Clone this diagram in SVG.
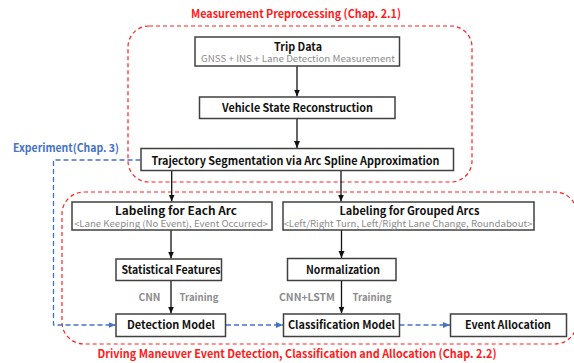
<svg xmlns="http://www.w3.org/2000/svg" width="574" height="363" viewBox="0 0 574 363">
<defs>
<marker id="ah" markerUnits="userSpaceOnUse" markerWidth="7" markerHeight="7" viewBox="0 0 7 7" refX="7" refY="3.5" orient="auto"><path d="M0,0.5 L7,3.5 L0,6.5 Z" fill="#111"/></marker>
<marker id="bh" markerUnits="userSpaceOnUse" markerWidth="7" markerHeight="7" viewBox="0 0 7 7" refX="7" refY="3.5" orient="auto"><path d="M0,0.5 L7,3.5 L0,6.5 Z" fill="#4472C4"/></marker>
</defs>
<style>
text{font-family:"Noto Sans CJK KR","Noto Sans",sans-serif;}
.box{fill:#fff;stroke:#404040;stroke-width:1.5;}
.t{font-size:11px;font-weight:bold;fill:#111;text-anchor:middle;}
.s{font-size:9px;fill:#8c8c8c;text-anchor:middle;}
.g{font-size:10px;font-weight:bold;fill:#8c8c8c;text-anchor:middle;}
.red{fill:none;stroke:#ff2020;stroke-width:1.2;stroke-dasharray:4 3;}
.rt{font-size:11.5px;font-weight:bold;fill:#ff1a1a;text-anchor:middle;}
.bt{font-size:11px;font-weight:bold;fill:#4472C4;text-anchor:middle;}
.arr{fill:none;stroke:#111;stroke-width:1.3;marker-end:url(#ah);}
.blu{fill:none;stroke:#4472C4;stroke-width:1.3;stroke-dasharray:5 3;marker-end:url(#bh);}
</style>
<g id="groups">
<rect class="red" x="128" y="26" width="344" height="156" rx="21"/>
<text class="rt" x="296" y="18" textLength="210" lengthAdjust="spacingAndGlyphs">Measurement Preprocessing (Chap. 2.1)</text>
<rect class="red" x="62" y="192" width="515" height="152" rx="22"/>
<text class="rt" x="297" y="358" textLength="399" lengthAdjust="spacingAndGlyphs">Driving Maneuver Event Detection, Classification and Allocation (Chap. 2.2)</text>
<text class="bt" x="66" y="152" textLength="106" lengthAdjust="spacingAndGlyphs">Experiment(Chap. 3)</text>
</g>
<g id="connectors">
<path class="arr" d="M297,66 V96.5"/>
<path class="arr" d="M297,118.5 V148"/>
<path class="arr" d="M171.7,171 V201.5"/>
<path class="arr" d="M341,171 V201.5"/>
<path class="arr" d="M171,230 V258.5"/>
<path class="arr" d="M171,281 V313.5"/>
<path class="arr" d="M341.5,230 V258"/>
<path class="arr" d="M341.5,281 V313.5"/>
<path class="blu" d="M140.5,160 H53.5 V325 H115.5"/>
<path class="blu" d="M226,325 H283"/>
<path class="blu" d="M399.5,325 H450"/>
<text class="g" x="149.5" y="300.5" textLength="22" lengthAdjust="spacingAndGlyphs">CNN</text>
<text class="g" x="199" y="300.5" textLength="39" lengthAdjust="spacingAndGlyphs">Training</text>
<text class="g" x="307" y="300.5" textLength="56" lengthAdjust="spacingAndGlyphs">CNN+LSTM</text>
<text class="g" x="372" y="300.5" textLength="39" lengthAdjust="spacingAndGlyphs">Training</text>
</g>
<g id="trip">
<rect class="box" x="195" y="37" width="204.5" height="29"/>
<text class="t" x="298" y="50.5" textLength="48" lengthAdjust="spacingAndGlyphs">Trip Data</text>
<text class="s" x="298" y="62" textLength="194" lengthAdjust="spacingAndGlyphs">GNSS + INS + Lane Detection Measurement</text>
</g>
<g id="vehicle">
<rect class="box" x="199.5" y="97" width="195.5" height="21.5"/>
<text class="t" x="297.5" y="111.5" textLength="151" lengthAdjust="spacingAndGlyphs">Vehicle State Reconstruction</text>
</g>
<g id="trajectory">
<rect class="box" x="141" y="148.5" width="312.5" height="22"/>
<text class="t" x="295.5" y="164.5" textLength="288" lengthAdjust="spacingAndGlyphs">Trajectory Segmentation via Arc Spline Approximation</text>
</g>
<g id="labelEach">
<rect class="box" x="72" y="202" width="200" height="28"/>
<text class="t" x="176" y="215" textLength="122" lengthAdjust="spacingAndGlyphs">Labeling for Each Arc</text>
<text class="s" x="171" y="226.5" textLength="194" lengthAdjust="spacingAndGlyphs">&lt;Lane Keeping (No Event), Event Occurred&gt;</text>
</g>
<g id="labelGrouped">
<rect class="box" x="283" y="202" width="251" height="28"/>
<text class="t" x="409.5" y="215" textLength="140" lengthAdjust="spacingAndGlyphs">Labeling for Grouped Arcs</text>
<text class="s" x="408" y="226.5" textLength="249" lengthAdjust="spacingAndGlyphs">&lt;Left/Right Turn, Left/Right Lane Change, Roundabout&gt;</text>
</g>
<g id="statistical">
<rect class="box" x="116" y="259" width="105.5" height="21.5"/>
<text class="t" x="171" y="273.5" textLength="99" lengthAdjust="spacingAndGlyphs">Statistical Features</text>
</g>
<g id="normalization">
<rect class="box" x="287.5" y="258.5" width="108.5" height="22"/>
<text class="t" x="343" y="273.5" textLength="74" lengthAdjust="spacingAndGlyphs">Normalization</text>
</g>
<g id="detection">
<rect class="box" x="116" y="314" width="109.5" height="22.5"/>
<text class="t" x="171" y="329" textLength="88" lengthAdjust="spacingAndGlyphs">Detection Model</text>
</g>
<g id="classification">
<rect class="box" x="283.5" y="314" width="116" height="22.5"/>
<text class="t" x="341.5" y="329" textLength="107" lengthAdjust="spacingAndGlyphs">Classification Model</text>
</g>
<g id="eventAllocation">
<rect class="box" x="450.5" y="314" width="116" height="22.5"/>
<text class="t" x="508" y="329" textLength="86" lengthAdjust="spacingAndGlyphs">Event Allocation</text>
</g>
</svg>
